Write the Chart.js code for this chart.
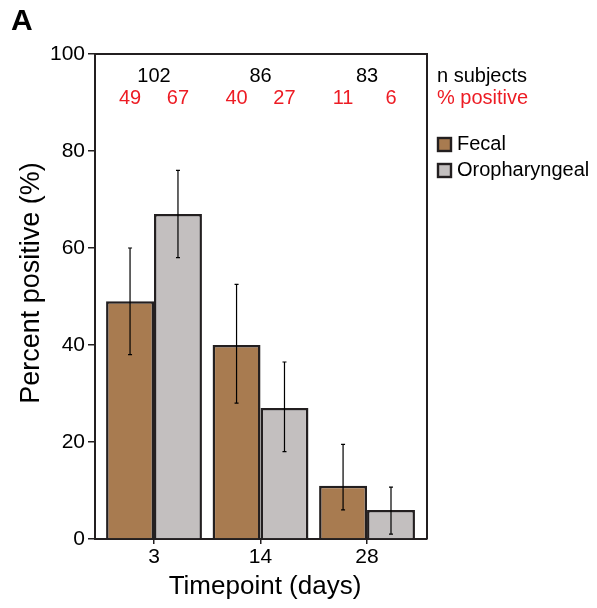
<!DOCTYPE html>
<html lang="en">
<head>
  <meta charset="UTF-8">
  <title>Percent positive by timepoint</title>
  <style>
    html, body { margin: 0; padding: 0; background: #fff; }
    #wrap { width: 597px; height: 608px; }
  </style>
</head>
<body>
  <div id="wrap"><canvas id="chart" width="597" height="608"></canvas></div>

  <script src="https://cdn.jsdelivr.net/npm/chart.js"></script>
  <script>
    // data
    const timepoints = ['3', '14', '28'];
    const nSubjects = [102, 86, 83];
    const fecal = [49, 40, 11];
    const fecalLow = [38, 28, 6];
    const fecalHigh = [60, 52.5, 19.5];
    const oro = [67, 27, 6];
    const oroLow = [58, 18, 1];
    const oroHigh = [76, 36.5, 10.7];
    const yTicks = [0, 20, 40, 60, 80, 100];

    const FONT = 'Arial, "Liberation Sans", sans-serif';
    const RED = '#ed1c24';
    const EDGE = '#231f20';
    const BROWN = '#a87b50';
    const GREY = '#c3bfbf';

    // error bars, frame, counts, legend and titles
    const extras = {
      id: 'extras',
      afterDatasetsDraw(chart) {
        const ctx = chart.ctx;
        const y = chart.scales.y;
        const area = chart.chartArea;
        const lows = [fecalLow, oroLow];
        const highs = [fecalHigh, oroHigh];

        ctx.save();
        ctx.strokeStyle = '#000';
        ctx.lineWidth = 1.2;
        [0, 1].forEach(d => {
          chart.getDatasetMeta(d).data.forEach((bar, i) => {
            const yl = y.getPixelForValue(lows[d][i]);
            const yh = y.getPixelForValue(highs[d][i]);
            ctx.beginPath();
            ctx.moveTo(bar.x, yl); ctx.lineTo(bar.x, yh);
            ctx.moveTo(bar.x - 2, yl); ctx.lineTo(bar.x + 2, yl);
            ctx.moveTo(bar.x - 2, yh); ctx.lineTo(bar.x + 2, yh);
            ctx.stroke();
          });
        });

        // top and right frame
        ctx.lineWidth = 2;
        ctx.strokeStyle = EDGE;
        ctx.beginPath();
        ctx.moveTo(area.left, area.top);
        ctx.lineTo(area.right, area.top);
        ctx.lineTo(area.right, area.bottom);
        ctx.stroke();

        // counts above each group
        ctx.font = '20px ' + FONT;
        ctx.textAlign = 'center';
        ctx.textBaseline = 'middle';
        const f = chart.getDatasetMeta(0).data;
        const o = chart.getDatasetMeta(1).data;
        timepoints.forEach((t, i) => {
          ctx.fillStyle = '#000';
          ctx.fillText(String(nSubjects[i]), (f[i].x + o[i].x) / 2, area.top + 22);
          ctx.fillStyle = RED;
          ctx.fillText(String(fecal[i]), f[i].x, area.top + 44);
          ctx.fillText(String(oro[i]), o[i].x, area.top + 44);
        });

        // side legend
        const lx = area.right + 10;
        ctx.textAlign = 'left';
        ctx.fillStyle = '#000';
        ctx.fillText('n subjects', lx, area.top + 22);
        ctx.fillStyle = RED;
        ctx.fillText('% positive', lx, area.top + 44);

        const items = [['Fecal', BROWN], ['Oropharyngeal', GREY]];
        items.forEach((it, k) => {
          const cy = area.top + 90 + k * 26;
          ctx.fillStyle = it[1];
          ctx.fillRect(lx + 1, cy - 6, 13, 13);
          ctx.strokeStyle = EDGE;
          ctx.lineWidth = 2.4;
          ctx.strokeRect(lx + 1, cy - 6, 13, 13);
          ctx.fillStyle = '#000';
          ctx.fillText(it[0], lx + 20, cy);
        });

        // axis titles
        ctx.font = '26px ' + FONT;
        ctx.textAlign = 'center';
        ctx.fillText('Timepoint (days)', 265, 587);
        ctx.save();
        ctx.translate(32, 283);
        ctx.rotate(-Math.PI / 2);
        ctx.font = '27px ' + FONT;
        ctx.fillText('Percent positive (%)', 0, 0);
        ctx.restore();

        // panel letter
        ctx.font = 'bold 30px ' + FONT;
        ctx.textAlign = 'left';
        ctx.fillText('A', 11, 22);
        ctx.restore();
      }
    };

    new Chart(document.getElementById('chart'), {
      type: 'bar',
      data: {
        datasets: [
          { label: 'Fecal', data: fecal.map((v, i) => ({ x: i, y: v })), backgroundColor: BROWN, borderColor: EDGE, borderWidth: 2.5 },
          { label: 'Oropharyngeal', data: oro.map((v, i) => ({ x: i, y: v })), backgroundColor: GREY, borderColor: EDGE, borderWidth: 2.5 }
        ]
      },
      options: {
        responsive: false,
        animation: false,
        layout: { padding: { top: 54, right: 170, left: 0, bottom: 0 } },
        datasets: { bar: { categoryPercentage: 0.9, barPercentage: 1 } },
        plugins: { legend: { display: false }, tooltip: { enabled: false } },
        scales: {
          x: {
            type: 'linear',
            offset: false,
            min: -0.554, max: 2.563,
            afterBuildTicks(s) { s.ticks = timepoints.map((t, i) => ({ value: i })); },
            grid: { offset: false, drawOnChartArea: false, color: EDGE, tickLength: 5, lineWidth: 1.5 },
            border: { display: true, color: EDGE, width: 2 },
            ticks: {
              color: '#000', font: { family: FONT, size: 21 }, padding: 1,
              callback: v => timepoints[v]
            },
            afterFit(s) { s.height = 69; }
          },
          y: {
            min: 0, max: 100,
            afterBuildTicks(s) { s.ticks = yTicks.map(v => ({ value: v })); },
            grid: { drawOnChartArea: false, color: EDGE, tickLength: 7, lineWidth: 1.5 },
            border: { display: true, color: EDGE, width: 2 },
            ticks: { color: '#000', font: { family: FONT, size: 21 }, padding: 3 },
            afterFit(s) { s.width = 95; }
          }
        }
      },
      plugins: [extras]
    });
  </script>
</body>
</html>
